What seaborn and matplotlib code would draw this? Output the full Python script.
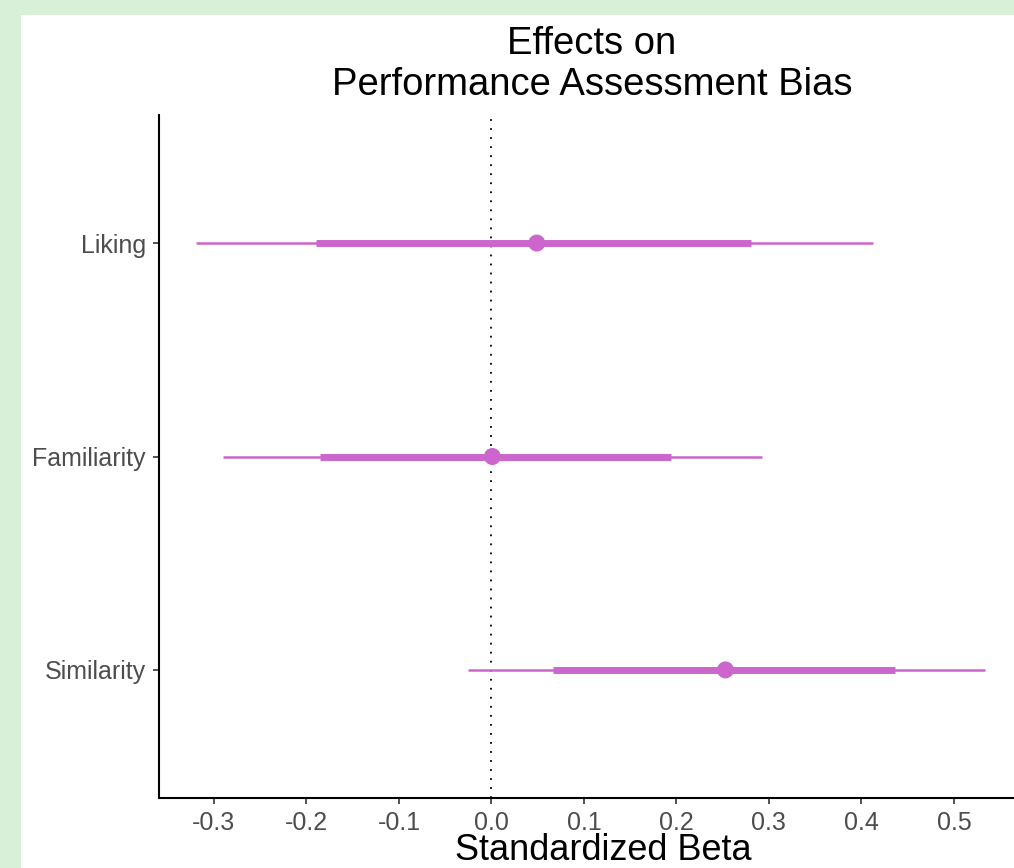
import matplotlib
matplotlib.use("Agg")
import matplotlib.pyplot as plt
import seaborn as sns
import pandas as pd
import numpy as np
from matplotlib.patches import Rectangle

# ---- data ----
predictors = ["Liking", "Familiarity", "Similarity"]
estimate = [0.049, 0.001, 0.253]
ci_inner_low = [-0.190, -0.185, 0.067]
ci_inner_high = [0.281, 0.194, 0.436]
ci_outer_low = [-0.319, -0.290, -0.025]
ci_outer_high = [0.413, 0.292, 0.534]
x_ticks = [-0.3, -0.2, -0.1, 0.0, 0.1, 0.2, 0.3, 0.4, 0.5]

df = pd.DataFrame({
    "predictor": predictors,
    "estimate": estimate,
    "lo_in": ci_inner_low,
    "hi_in": ci_inner_high,
    "lo_out": ci_outer_low,
    "hi_out": ci_outer_high,
})
df["pos"] = np.arange(len(df))

sns.set_theme(style="white")
plt.rcParams["font.family"] = ["Liberation Sans", "DejaVu Sans"]

color = "#CC66CC"
W, H = 1014, 868
fig = plt.figure(figsize=(W / 100, H / 100), dpi=100)
fig.patch.set_facecolor("#D8EFD8")
bg = Rectangle((21 / W, 0), 1, 1 - 15 / H, transform=fig.transFigure,
               facecolor="white", edgecolor="none", zorder=-10)
fig.add_artist(bg)

ax = fig.add_axes([158.5 / W, 1 - 798 / H, 1 - 158.5 / W, (798 - 115) / H])
ax.set_facecolor("none")
ax.set_zorder(5)

ax.axvline(0, color="black", linestyle=(0, (1, 4)), linewidth=1.3, zorder=1)
ax.hlines(df["pos"], df["lo_out"], df["hi_out"], color=color, linewidth=1.8, zorder=2)
ax.hlines(df["pos"], df["lo_in"], df["hi_in"], color=color, linewidth=5, zorder=3)
sns.scatterplot(data=df, x="estimate", y="pos", color=color, s=150, edgecolor="none",
                ax=ax, zorder=4, legend=False)

ax.set_xlim(-0.36, 0.565)
ax.set_ylim(2.6, -0.6)
ax.set_yticks(df["pos"])
ax.set_yticklabels(predictors)
ax.set_xticks(x_ticks)
ax.set_xticklabels([f"{t:.1f}" for t in x_ticks])
ax.set_xlabel("")
ax.set_ylabel("")

for side in ["top", "right"]:
    ax.spines[side].set_visible(False)
for side in ["left", "bottom"]:
    ax.spines[side].set_visible(True)
    ax.spines[side].set_color("black")
    ax.spines[side].set_linewidth(1.5)

ax.tick_params(axis="both", which="major", length=4, width=1.2, color="#333333",
               labelcolor="#4D4D4D", labelsize=18, pad=5, left=True, bottom=True)

fig.text(592 / W, 1 - 54 / H, "Effects on", ha="center", va="baseline", fontsize=27.5, color="black")
fig.text(592 / W, 1 - 95 / H, "Performance Assessment Bias", ha="center", va="baseline",
         fontsize=27.5, color="black")
fig.text(603 / W, 1 - 860 / H, "Standardized Beta", ha="center", va="baseline",
         fontsize=26, color="black")

fig.savefig("out.png", dpi=100, facecolor=fig.get_facecolor())
